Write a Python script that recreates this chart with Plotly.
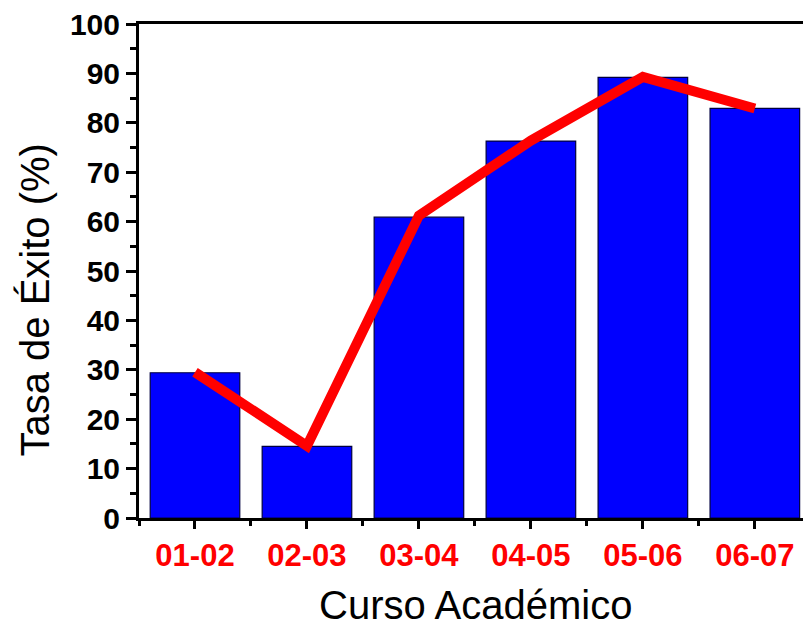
import plotly.graph_objects as go

cursos = ["01-02", "02-03", "03-04", "04-05", "05-06", "06-07"]
tasa_barras = [29.4, 14.5, 60.9, 76.3, 89.2, 82.9]
tasa_linea = [29.5, 14.6, 61.2, 76.4, 89.3, 82.9]
y_ticks = [0, 10, 20, 30, 40, 50, 60, 70, 80, 90, 100]
titulo_x = "Curso Académico"
titulo_y = "Tasa de Éxito (%)"

xpos = list(range(len(cursos)))

fig = go.Figure()
fig.add_trace(go.Bar(
    x=xpos, y=tasa_barras, width=0.8,
    marker=dict(color="#0000FF", line=dict(color="#000040", width=1.2)),
    showlegend=False,
))
fig.add_trace(go.Scatter(
    x=xpos, y=tasa_linea, mode="lines",
    line=dict(color="#FF0000", width=10),
    showlegend=False,
))

fig.update_layout(
    width=803, height=623,
    margin=dict(l=139, r=0, t=24, b=105),
    plot_bgcolor="white", paper_bgcolor="white",
    hovermode=False,
    font=dict(family="Arial, Liberation Sans, sans-serif", color="black"),
    annotations=[
        dict(text=titulo_x, xref="paper", yref="paper", x=0.507, y=-0.176,
             xanchor="center", yanchor="middle", showarrow=False,
             font=dict(size=40, color="black")),
        dict(text=titulo_y, xref="paper", yref="paper", x=-0.156, y=0.441,
             xanchor="center", yanchor="middle", showarrow=False, textangle=-90,
             font=dict(size=40, color="black")),
    ],
)
fig.update_xaxes(
    range=[-0.5, 5.43],
    tickmode="array", tickvals=xpos, ticktext=cursos,
    tickfont=dict(size=31, color="#FF0000", weight="bold"),
    ticks="outside", ticklen=8, tickwidth=3, tickcolor="black",
    minor=dict(tick0=0.5, dtick=1, ticks="outside", ticklen=5, tickwidth=3, tickcolor="black"),
    showline=True, linewidth=3, linecolor="black", mirror=True,
    showgrid=False, zeroline=False,
)
fig.update_yaxes(
    range=[0, 100],
    tickmode="array", tickvals=y_ticks,
    tickfont=dict(size=30, color="black", weight="bold"),
    ticks="outside", ticklen=10, tickwidth=3, tickcolor="black",
    ticklabeloverflow="allow",
    minor=dict(tick0=5, dtick=10, ticks="outside", ticklen=6, tickwidth=3, tickcolor="black"),
    showline=True, linewidth=3, linecolor="black",
    showgrid=False, zeroline=False,
)

fig.write_html("out.html", config={"displayModeBar": False},
               post_script="document.body.style.margin='0';")
